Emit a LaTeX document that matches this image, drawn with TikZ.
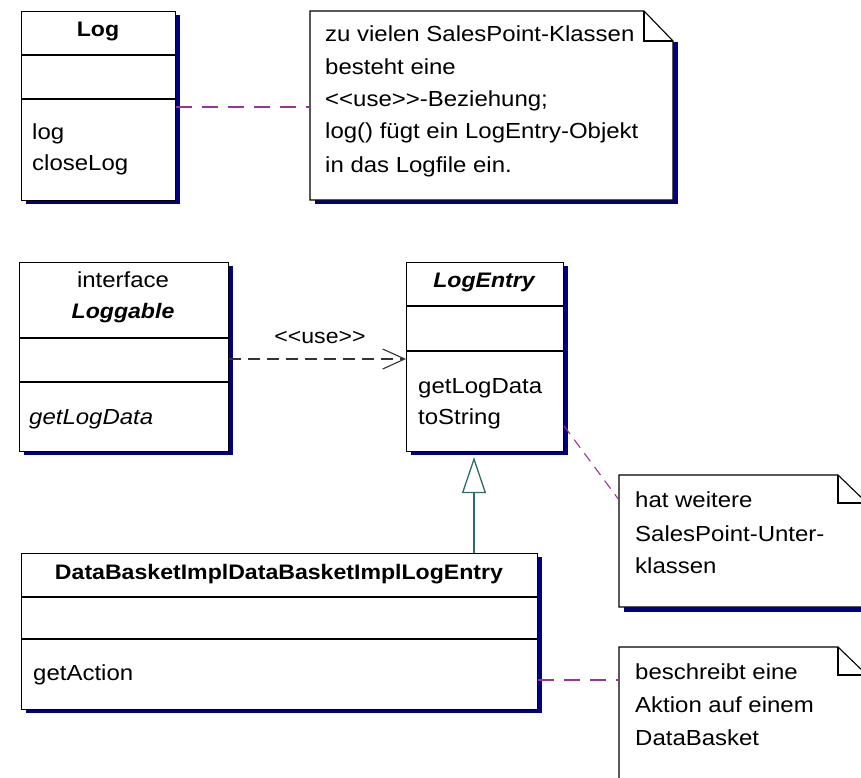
\documentclass[tikz,border=0pt]{standalone}
\usepackage{fontspec}
\setmainfont{Liberation Sans}[FakeStretch=1.1]
\usetikzlibrary{arrows.meta,calc}
\definecolor{shadowblue}{HTML}{000080}
\definecolor{linkpurple}{HTML}{993399}
\definecolor{genteal}{HTML}{2F6B6B}
\definecolor{usegray}{HTML}{333333}
\begin{document}
\begin{tikzpicture}[x=1pt,y=-1pt,
  txt/.style={font=\fontsize{21.8}{25}\selectfont, inner sep=0pt, anchor=base west},
  ttl/.style={font=\fontsize{21}{25}\selectfont\bfseries, inner sep=0pt, anchor=base},
  classbox/.style={draw=black, fill=white, line width=1.1pt, inner sep=0pt, anchor=north west},
  notebox/.style={draw=none, inner sep=0pt, anchor=north west},
  sep/.style={draw=black, line width=1.1pt},
  shade/.style={fill=shadowblue},
  noteline/.style={draw=black, fill=white, line width=1.1pt, line join=miter},
  notelink/.style={draw=linkpurple, line width=1.1pt, dash pattern=on 16pt off 10pt},
  uselink/.style={draw=usegray, line width=1.1pt, dash pattern=on 12pt off 7pt, -{Straight Barb[length=22pt,width=20pt]}},
  genlink/.style={draw=genteal, line width=1.3pt, -{Triangle[open,length=36pt,width=24pt,fill=white]}}
]
\clip (0,0) rectangle (861,778);
\fill[white] (0,0) rectangle (861,778);

% ---------- Log ----------
\fill[shade] (26,15) rectangle (180,204);
\node[classbox, minimum width=154pt, minimum height=189pt] (log) at (21,11) {};
\draw[sep] (21,55) -- (175,55);
\draw[sep] (21,99) -- (175,99);
\node[ttl] (logT) at (98,37) {Log};
\node[txt] (logM1) at (32,140) {log};
\node[txt] (logM2) at (32,171) {closeLog};

% ---------- Note 1 ----------
\fill[shade] (315,42) rectangle (678,204);
\node[notebox, minimum width=363pt, minimum height=189pt] (note1) at (310,11) {};
\draw[noteline] (310,11) -- (644,11) -- (673,41) -- (673,200) -- (310,200) -- cycle;
\draw[sep] (644,11) -- (644,41) -- (673,41);
\node[txt] (n1a) at (325,42) {zu vielen SalesPoint-Klassen};
\node[txt] (n1b) at (325,75) {besteht eine};
\node[txt] (n1c) at (325,107) {<{}<use>{}>-Beziehung;};
\node[txt] (n1d) at (325,139) {log() fügt ein LogEntry-Objekt};
\node[txt] (n1e) at (325,172) {in das Logfile ein.};

% ---------- Loggable ----------
\fill[shade] (24,266) rectangle (233,455);
\node[classbox, minimum width=209pt, minimum height=189pt] (loggable) at (19,262) {};
\draw[sep] (19,338) -- (228,338);
\draw[sep] (19,382) -- (228,382);
\node[inner sep=0pt, anchor=base, font=\fontsize{21.8}{25}\selectfont] (lgS) at (123,287) {interface};
\node[ttl, font=\fontsize{21}{25}\selectfont\bfseries\itshape] (lgT) at (123,318) {Loggable};
\node[txt, font=\fontsize{21.8}{25}\selectfont\itshape] (lgM) at (29,424) {getLogData};

% ---------- LogEntry ----------
\fill[shade] (411,266) rectangle (568,455);
\node[classbox, minimum width=157pt, minimum height=189pt] (logentry) at (406,262) {};
\draw[sep] (406,306) -- (563,306);
\draw[sep] (406,351) -- (563,351);
\node[ttl, font=\fontsize{21}{25}\selectfont\bfseries\itshape] (leT) at (484,287) {LogEntry};
\node[txt] (leM1) at (418,393) {getLogData};
\node[txt] (leM2) at (418,424) {toString};

% ---------- DataBasketImpl...LogEntry ----------
\fill[shade] (26,557) rectangle (542,713);
\node[classbox, minimum width=516pt, minimum height=156pt] (dbi) at (21,553) {};
\draw[sep] (21,597) -- (537,597);
\draw[sep] (21,639) -- (537,639);
\node[ttl] (dbiT) at (279,579) {DataBasketImplDataBasketImplLogEntry};
\node[txt] (dbiM) at (33,680) {getAction};

% ---------- Note 2 ----------
\fill[shade] (624,503) rectangle (872,612);
\node[notebox, minimum width=248pt, minimum height=132pt] (note2) at (619,475) {};
\draw[noteline] (619,475) -- (838,475) -- (867,503) -- (867,607) -- (619,607) -- cycle;
\draw[sep] (838,475) -- (838,503) -- (867,503);
\node[txt] (n2a) at (635,507) {hat weitere};
\node[txt] (n2b) at (635,541) {SalesPoint-Unter-};
\node[txt] (n2c) at (635,573) {klassen};

% ---------- Note 3 ----------
\fill[shade] (624,675) rectangle (872,800);
\node[notebox, minimum width=248pt, minimum height=150pt] (note3) at (619,647) {};
\draw[noteline] (619,647) -- (838,647) -- (867,675) -- (867,797) -- (619,797) -- cycle;
\draw[sep] (838,647) -- (838,675) -- (867,675);
\node[txt] (n3a) at (635,679) {beschreibt eine};
\node[txt] (n3b) at (635,712) {Aktion auf einem};
\node[txt] (n3c) at (635,745) {DataBasket};

% ---------- connectors ----------
\draw[notelink] (log.east |- 0,107) -- (note1.west |- 0,107);
\draw[notelink, dash pattern=on 10pt off 7pt] (logentry.east |- 0,426) -- (note2.west |- 0,500);
\draw[notelink] (dbi.east |- 0,680) -- (note3.west |- 0,680);

\draw[uselink] (loggable.east |- 0,359) -- (logentry.west |- 0,359);
\node[inner sep=0pt, anchor=base, font=\fontsize{21}{25}\selectfont] (useL) at (320,343) {<{}<use>{}>};

\coordinate (gx) at (474,0);
\draw[genlink] (gx |- dbi.north) -- ($(gx |- logentry.south)+(0,5)$);
\end{tikzpicture}
\end{document}
